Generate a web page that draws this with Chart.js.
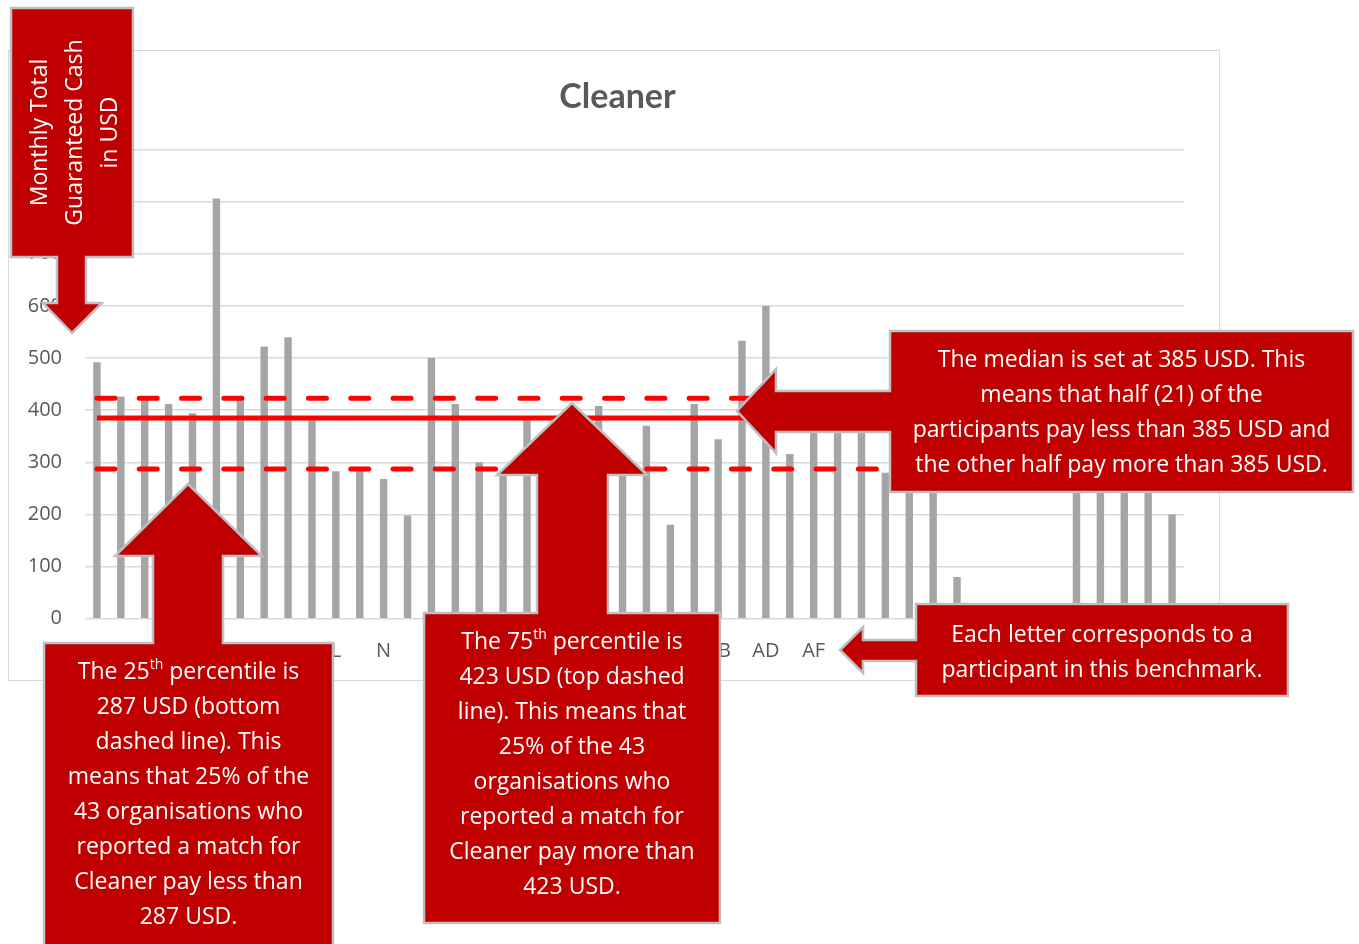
<!DOCTYPE html>
<html>
<head>
<meta charset="utf-8">
<script src="https://cdn.jsdelivr.net/npm/chart.js@4.4.1/dist/chart.umd.min.js"></script>
<style>
html,body{margin:0;padding:0;background:#fff;width:1359px;height:944px;overflow:hidden;}
#frame{position:absolute;left:8px;top:50px;width:1212px;height:631px;border:1.5px solid #D9D9D9;box-sizing:border-box;}
#c{position:absolute;left:0;top:0;}
#shapes{position:absolute;left:0;top:0;}
.txt{position:absolute;color:#fff;font-family:"Open Sans",sans-serif;font-size:23px;line-height:35px;text-align:center;white-space:nowrap;}
.txt sup{font-size:14px;line-height:0;vertical-align:baseline;position:relative;top:-10px;}
</style>
</head>
<body>
<div id="frame"></div>
<canvas id="c" width="1359" height="944"></canvas>
<svg id="shapes" width="1359" height="944" xmlns="http://www.w3.org/2000/svg">
  <g fill="#C00000" stroke="#BFBFBF" stroke-width="2.5" stroke-linejoin="miter">
    <path d="M11,8 H133 V257 H86 V303 H102 L72,333 L43,303 H57 V257 H11 Z"/>
    <path d="M44,643 H153 V556 H115 L188,484 L262,556 H223 V643 H333 V960 H44 Z"/>
    <path d="M424,613 H537 V475 H497 L572,403 L647,475 H608 V613 H720 V923 H424 Z"/>
    <path d="M890,331 H1353 V492 H890 V432 H776 V453 L737,411 L776,369 V391 H890 Z"/>
    <path d="M916,604 H1288 V696 H916 V661 H863 V673 L840,650 L863,627 V640 H916 Z"/>
  </g>
</svg>
<div class="txt" style="left:-51.5px;top:80px;width:249px;height:105px;transform:rotate(-90deg);">Monthly Total<br>Guaranteed Cash<br>in USD</div>
<div class="txt" style="left:890px;top:341px;width:463px;">The median is set at 385 USD. This<br>means that half (21) of the<br>participants pay less than 385 USD and<br>the other half pay more than 385 USD.</div>
<div class="txt" style="left:916px;top:616px;width:372px;">Each letter corresponds to a<br>participant in this benchmark.</div>
<div class="txt" style="left:44px;top:653px;width:289px;">The 25<sup>th</sup> percentile is<br>287 USD (bottom<br>dashed line). This<br>means that 25% of the<br>43 organisations who<br>reported a match for<br>Cleaner pay less than<br>287 USD.</div>
<div class="txt" style="left:424px;top:623px;width:296px;">The 75<sup>th</sup> percentile is<br>423 USD (top dashed<br>line). This means that<br>25% of the 43<br>organisations who<br>reported a match for<br>Cleaner pay more than<br>423 USD.</div>
<script>
// ---- data ----
const chartTitle = 'Cleaner';
const categories = ['A','B','C','D','E','F','G','H','J','K','L','M','N','O','P','Q','R','S','T','U','V','W','X','Y','Z',
  'AA','AB','AC','AD','AE','AF','AG','AH','AI','AJ','AK','AL','AM','AN','AO','AP','AQ','AR','AS','AT','AU'];
const monthlyPay = [492,426,424,412,394,806,421,522,540,385,283,285,268,198,500,412,300,276,386,340,360,408,285,370,180,
  412,344,533,600,316,365,370,362,280,400,390,80,null,null,null,null,450,430,395,400,200];
const median = 385;
const percentile25 = 287;
const percentile75 = 423;
const yMin = 0, yMax = 900, yStep = 100;

function refLine(v){
  return [{x: categories[0], y: v}, {x: categories[categories.length-1], y: v}];
}

new Chart(document.getElementById('c'), {
  type: 'bar',
  data: {
    labels: categories,
    datasets: [
      {type:'line', label:'P75', data: refLine(percentile75), borderColor:'#FF0000', borderWidth:5,
        borderDash:[18,24.3], borderCapStyle:'round', pointRadius:0, fill:false, order:0},
      {type:'line', label:'P25', data: refLine(percentile25), borderColor:'#FF0000', borderWidth:5,
        borderDash:[18,24.3], borderCapStyle:'round', pointRadius:0, fill:false, order:0},
      {type:'line', label:'Median', data: refLine(median), borderColor:'#FF0000', borderWidth:5,
        pointRadius:0, fill:false, order:0},
      {type:'bar', label:'Monthly Total Guaranteed Cash', data: monthlyPay, backgroundColor:'#A5A5A5',
        borderWidth:0, categoryPercentage:1, barPercentage:0.31, order:3}
    ]
  },
  options: {
    responsive:false,
    animation:false,
    layout:{padding:{top:51,left:0,right:124,bottom:263.3}},
    plugins:{
      legend:{display:false},
      tooltip:{enabled:false},
      title:{display:true, text:chartTitle, color:'#595959',
        font:{family:'Lato', size:34, weight:'bold'}, padding:{top:26,bottom:31.7}}
    },
    scales:{
      x:{
        grid:{display:false, drawTicks:false},
        border:{display:false},
        ticks:{autoSkip:false, maxRotation:0, minRotation:0, padding:21, color:'#595959',
          font:{family:'Open Sans', size:20},
          callback:(v,i)=> i%2===0 ? categories[i] : ''},
        afterFit:(s)=>{ s.height = 62; }
      },
      y:{
        min:yMin, max:yMax,
        grid:{color:'#D9D9D9', lineWidth:1.5, drawTicks:false},
        border:{display:false},
        ticks:{stepSize:yStep, padding:23, color:'#595959', font:{family:'Open Sans', size:20}},
        afterFit:(s)=>{ s.width = 85; }
      },
      yRight:{
        position:'right', min:yMin, max:yMax,
        grid:{display:false, drawTicks:false},
        border:{display:false},
        ticks:{display:false},
        afterFit:(s)=>{ s.width = 51; }
      }
    }
  }
});
</script>
</body>
</html>
